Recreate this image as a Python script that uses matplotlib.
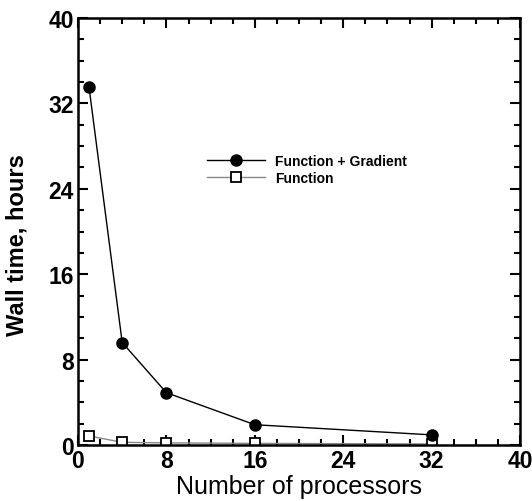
import matplotlib
matplotlib.use("Agg")
import matplotlib.pyplot as plt
from matplotlib.ticker import MultipleLocator

processors = [1, 4, 8, 16, 32]
func_grad_hours = [33.5, 9.6, 4.9, 1.9, 0.95]
func_hours = [0.85, 0.25, 0.2, 0.15, 0.1]

plt.rcParams['font.family'] = ['Liberation Sans', 'DejaVu Sans']

fig = plt.figure(figsize=(5.32, 5.02), dpi=100)
ax = fig.add_axes([78 / 532, 1 - 446 / 502, 442 / 532, 427 / 502])

ax.plot(processors, func_hours, color='#888888', lw=1.0, marker='s', ms=7.5,
        mfc='white', mec='black', mew=1.3, label='Function', zorder=2)
ax.plot(processors, func_grad_hours, color='black', lw=1.0, marker='o', ms=8,
        mfc='black', mec='black', label='Function + Gradient', zorder=3)

ax.set_xlim(0, 40)
ax.set_ylim(0, 40)
ax.xaxis.set_major_locator(MultipleLocator(8))
ax.yaxis.set_major_locator(MultipleLocator(8))
ax.xaxis.set_minor_locator(MultipleLocator(2))
ax.yaxis.set_minor_locator(MultipleLocator(2))
ax.tick_params(which='both', direction='in', top=True, right=True, width=1.5)
ax.tick_params(which='major', length=7, labelsize=16.5, pad=3)
ax.tick_params(which='minor', length=4)
for lbl in ax.get_xticklabels() + ax.get_yticklabels():
    lbl.set_fontweight('bold')
for s in ax.spines.values():
    s.set_linewidth(1.8)

ax.set_xlabel('Number of processors', fontsize=18)
ax.set_ylabel('Wall time, hours', fontsize=17, fontweight='bold')
ax.xaxis.set_label_coords(0.5, -0.068)
ax.yaxis.set_label_coords(-0.113, 0.47)

handles, labels = ax.get_legend_handles_labels()
ax.legend(handles[::-1], labels[::-1], loc='upper left', bbox_to_anchor=(0.276, 0.697),
          frameon=False, prop={'weight': 'bold', 'size': 10},
          handlelength=4.2, handletextpad=0.7, labelspacing=0.2, borderpad=0)

fig.savefig('out.png', dpi=100)
